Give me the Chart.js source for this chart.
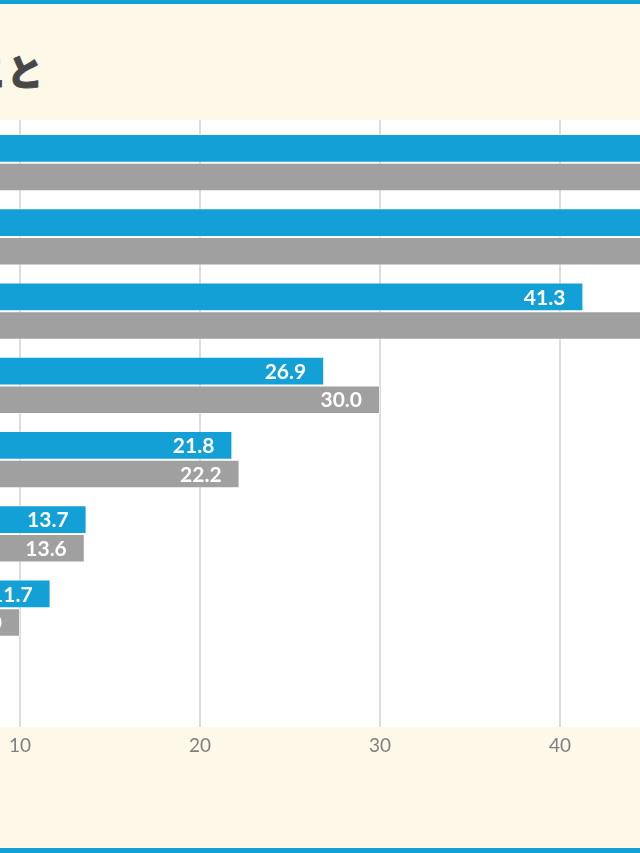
<!DOCTYPE html>
<html lang="ja">
<head>
<meta charset="utf-8">
<script src="https://cdn.jsdelivr.net/npm/chart.js@4/dist/chart.umd.min.js"></script>
<style>
  html, body { margin: 0; padding: 0; }
  body {
    width: 640px; height: 853px; overflow: hidden; position: relative;
    background: #fef8e9;
  }
  .topline { position: absolute; left: 0; top: 0; width: 640px; height: 4px; background: #12a0d7; }
  .bottomline { position: absolute; left: 0; top: 848px; width: 640px; height: 5px; background: #12a0d7; }
  h1 {
    position: absolute; right: 597px; top: 50px; margin: 0;
    font: 900 36px/40px "Noto Sans CJK JP", sans-serif; color: #474747;
    -webkit-text-stroke: 0.9px #474747;
    white-space: nowrap;
  }
  #chart { position: absolute; left: -460px; top: 0; }
</style>
</head>
<body>
<div class="topline"></div>
<h1>仕事を選ぶときに重視すること</h1>
<canvas id="chart" width="1410" height="853"></canvas>
<div class="bottomline"></div>
<script>
// data
const categories = ["給与・待遇", "仕事内容", "勤務地", "休日・休暇", "職場の雰囲気", "会社の将来性", "福利厚生", "その他"];
const seriesNames = ["2023年", "2022年"];
const blueValues = [57.0, 52.0, 41.3, 26.9, 21.8, 13.7, 11.7, 6.0];
const grayValues = [55.0, 49.5, 49.0, 30.0, 22.2, 13.6, 10.0, 5.5];

// white plot panel behind bars + full-height grid lines
const panelPlugin = {
    id: 'panel',
    beforeDatasetsDraw(chart) {
        const { ctx, chartArea, scales } = chart;
        const top = chartArea.top - 5.5, bottom = chartArea.bottom + 7.5;
        ctx.save();
        ctx.fillStyle = '#ffffff';
        ctx.fillRect(chartArea.left, top, chartArea.right - chartArea.left, bottom - top);
        ctx.strokeStyle = '#c9c9c9';
        ctx.lineWidth = 1.3;
        scales.x.ticks.forEach(t => {
            const x = scales.x.getPixelForValue(t.value);
            ctx.beginPath();
            ctx.moveTo(x, top);
            ctx.lineTo(x, bottom);
            ctx.stroke();
        });
        ctx.restore();
    }
};

// value labels inside the bar end
const valueLabels = {
    id: 'valueLabels',
    afterDatasetsDraw(chart) {
        const ctx = chart.ctx;
        ctx.save();
        ctx.fillStyle = '#ffffff';
        ctx.font = '700 21px Lato, sans-serif';
        ctx.textAlign = 'right';
        ctx.textBaseline = 'middle';
        chart.data.datasets.forEach((ds, i) => {
            chart.getDatasetMeta(i).data.forEach((bar, j) => {
                const v = ds.data[j];
                if (v == null) return;
                ctx.fillText(v.toFixed(1), bar.x - 18, bar.y + 1);
            });
        });
        ctx.restore();
    }
};

new Chart(document.getElementById('chart').getContext('2d'), {
    type: 'bar',
    data: {
        labels: categories,
        datasets: [{
            label: seriesNames[0],
            data: blueValues,
            backgroundColor: '#12a0d7',
            borderColor: 'rgba(255,255,255,0.4)',
            borderWidth: 1
        }, {
            label: seriesNames[1],
            data: grayValues,
            backgroundColor: '#a0a0a0',
            borderColor: 'rgba(255,255,255,0.4)',
            borderWidth: 1
        }]
    },
    plugins: [panelPlugin, valueLabels],
    options: {
        indexAxis: 'y',
        responsive: false,
        animation: false,
        devicePixelRatio: 1,
        layout: { padding: { top: 125.5, right: 30, bottom: 0, left: 0 } },
        categoryPercentage: 0.77,
        barPercentage: 1,
        plugins: {
            legend: { display: false },
            tooltip: { enabled: false }
        },
        scales: {
            x: {
                min: 0, max: 60,
                ticks: { stepSize: 10, color: '#808080', padding: 15, font: { family: 'Lato', size: 19 } },
                grid: { display: false, drawTicks: false },
                border: { display: false },
                afterFit(scale) { scale.height = 133.5; }
            },
            y: {
                ticks: { color: '#555', font: { family: 'Noto Sans CJK JP', size: 18 } },
                grid: { display: false },
                border: { display: false },
                afterFit(scale) { scale.width = 300; }
            }
        }
    }
});
</script>
</body>
</html>
